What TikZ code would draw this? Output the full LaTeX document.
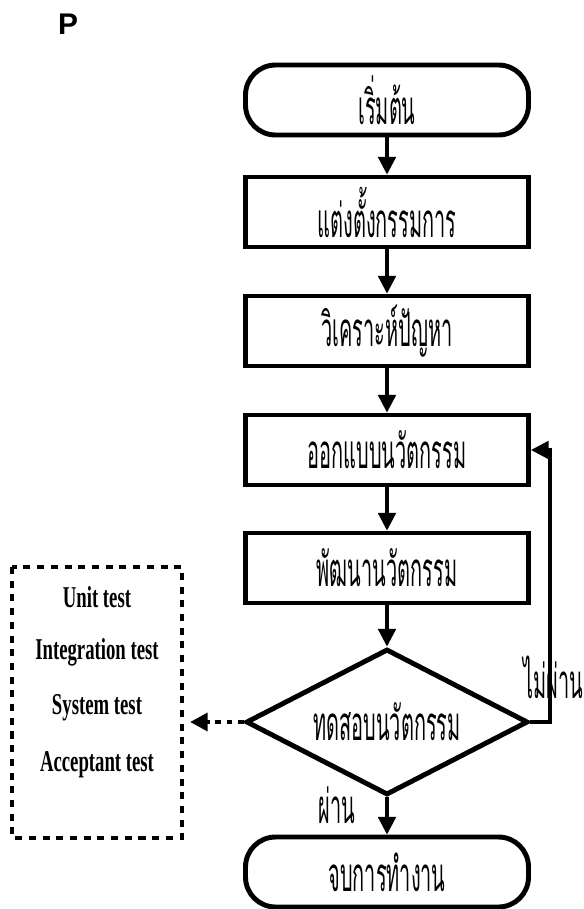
\documentclass[tikz,border=0pt]{standalone}
\usepackage{fontspec}
\setmainfont{Liberation Serif}
\newfontfamily\thaifont[Script=Thai,FakeStretch=0.42]{Loma}
\newfontfamily\testfont[FakeStretch=0.62]{Liberation Serif Bold}
\newfontfamily\markfont{Liberation Sans Bold}
\usetikzlibrary{shapes.geometric}
\usetikzlibrary{arrows.meta}

\tikzset{
    flowbox/.style={draw,line width=1.4pt,minimum width=2.83cm,minimum height=0.70cm,
        inner sep=0pt,font=\thaifont\fontsize{13.5}{15}\selectfont},
    terminal/.style={flowbox,rounded corners=0.3cm},
    decision/.style={flowbox,shape=diamond,aspect=2,minimum width=2.82cm,minimum height=1.46cm},
    flowline/.style={line width=0.9pt,-{Triangle[length=5pt,width=5pt]}},
    testitem/.style={font=\testfont\fontsize{8.6}{10}\selectfont},
    passlabel/.style={inner sep=0pt,font=\thaifont\fontsize{13.5}{15}\selectfont}
}

\begin{document}
\begin{tikzpicture}
    \useasboundingbox (0,0) rectangle (5.84,-9.09);
    \node[font=\markfont\fontsize{8.5}{9}\selectfont] (mark) at (0.68,-0.24) {P};
    \node[terminal] (start) at (3.87,-1.00) {เริ่มต้น};
    \node[flowbox] (appoint) at (3.87,-2.12) {แต่งตั้งกรรมการ};
    \node[flowbox] (analyse) at (3.87,-3.31) {วิเคราะห์ปัญหา};
    \node[flowbox] (design) at (3.87,-4.50) {ออกแบบนวัตกรรม};
    \node[flowbox] (develop) at (3.87,-5.68) {พัฒนานวัตกรรม};
    \node[decision] (test) at (3.87,-7.22) {ทดสอบนวัตกรรม};
    \node[terminal] (finish) at (3.87,-8.72) {จบการทำงาน};
    \draw[line width=1.4pt,dash pattern=on 2pt off 1.9pt] (0.12,-5.67) rectangle (1.82,-8.38);
    \node[testitem] (unit) at (0.97,-5.97) {Unit test};
    \node[testitem] (integ) at (0.97,-6.52) {Integration test};
    \node[testitem] (system) at (0.97,-7.08) {System test};
    \node[testitem] (accept) at (0.97,-7.65) {Acceptant test};
    \coordinate (testout) at (1.90,-7.22);
    \coordinate (loop) at (5.50,-7.22);
    \draw[flowline] (start) -- (appoint);
    \draw[flowline] (appoint) -- (analyse);
    \draw[flowline] (analyse) -- (design);
    \draw[flowline] (design) -- (develop);
    \draw[flowline] (develop) -- (test);
    \draw[flowline] (test) -- node[passlabel,pos=0.2,left=0.3cm] {ผ่าน} (finish);
    \draw[flowline] (test.east) -- (loop) |- (design.east);
    \draw[flowline,line width=1.3pt,dash pattern=on 1.6pt off 1.6pt] (test.west) -- (testout);
    \node[passlabel,anchor=east] (fail) at (5.84,-6.77) {ไม่ผ่าน};
\end{tikzpicture}
\end{document}
